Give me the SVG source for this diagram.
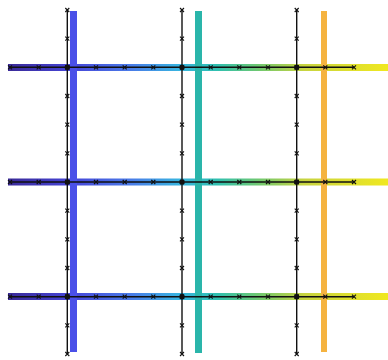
<svg xmlns="http://www.w3.org/2000/svg" width="388" height="360" viewBox="0 0 388 360">
<style>
.hb{fill:url(#grad);}
.bk{fill:none;stroke:#111;stroke-width:1.4;marker-start:url(#mx);marker-mid:url(#mx);marker-end:url(#mx);}
.dot{fill:#111;}
</style>
<defs>
<linearGradient id="grad" gradientUnits="userSpaceOnUse" x1="8" y1="0" x2="388" y2="0">
<stop offset="0" stop-color="#3a2a98"/>
<stop offset="0.17" stop-color="#4646d8"/>
<stop offset="0.32" stop-color="#4a7ae8"/>
<stop offset="0.45" stop-color="#38b4e0"/>
<stop offset="0.55" stop-color="#30c0b0"/>
<stop offset="0.66" stop-color="#70c870"/>
<stop offset="0.78" stop-color="#c8d440"/>
<stop offset="1" stop-color="#f0e820"/>
</linearGradient>
<marker id="mx" markerUnits="userSpaceOnUse" markerWidth="8" markerHeight="8" refX="4" refY="4" overflow="visible">
<path d="M2,2 L6,6 M2,6 L6,2" stroke="#111" stroke-width="1.1" fill="none"/>
</marker>
</defs>
<g id="horizontal-bars">
<rect class="hb" x="8" y="64" width="380" height="7"/>
<rect class="hb" x="8" y="178.5" width="380" height="7"/>
<rect class="hb" x="8" y="293" width="380" height="7"/>
</g>
<g id="vertical-bars">
<rect x="70" y="11" width="7" height="341" fill="#4a50e8"/>
<rect x="195" y="11" width="7" height="342" fill="#2ab5aa"/>
<rect x="321" y="11" width="6" height="341" fill="#f5b340"/>
</g>
<g id="connectors">
<polyline class="bk" points="10,67.3 38.7,67.3 67.3,67.3 96,67.3 124.7,67.3 153.3,67.3 182,67.3 210.7,67.3 239.3,67.3 268,67.3 296.7,67.3 325.3,67.3 354,67.3"/>
<polyline class="bk" points="10,182 38.7,182 67.3,182 96,182 124.7,182 153.3,182 182,182 210.7,182 239.3,182 268,182 296.7,182 325.3,182 354,182"/>
<polyline class="bk" points="10,296.7 38.7,296.7 67.3,296.7 96,296.7 124.7,296.7 153.3,296.7 182,296.7 210.7,296.7 239.3,296.7 268,296.7 296.7,296.7 325.3,296.7 354,296.7"/>
<polyline class="bk" points="67.3,10 67.3,38.7 67.3,67.3 67.3,96 67.3,124.7 67.3,153.3 67.3,182 67.3,210.7 67.3,239.3 67.3,268 67.3,296.7 67.3,325.3 67.3,354"/>
<polyline class="bk" points="182,10 182,38.7 182,67.3 182,96 182,124.7 182,153.3 182,182 182,210.7 182,239.3 182,268 182,296.7 182,325.3 182,354"/>
<polyline class="bk" points="296.7,10 296.7,38.7 296.7,67.3 296.7,96 296.7,124.7 296.7,153.3 296.7,182 296.7,210.7 296.7,239.3 296.7,268 296.7,296.7 296.7,325.3 296.7,354"/>
</g>
<g id="nodes">
<circle class="dot" cx="67.3" cy="67.3" r="2.6"/>
<circle class="dot" cx="182" cy="67.3" r="2.6"/>
<circle class="dot" cx="296.7" cy="67.3" r="2.6"/>
<circle class="dot" cx="67.3" cy="182" r="2.6"/>
<circle class="dot" cx="182" cy="182" r="2.6"/>
<circle class="dot" cx="296.7" cy="182" r="2.6"/>
<circle class="dot" cx="67.3" cy="296.7" r="2.6"/>
<circle class="dot" cx="182" cy="296.7" r="2.6"/>
<circle class="dot" cx="296.7" cy="296.7" r="2.6"/>
</g>
</svg>
